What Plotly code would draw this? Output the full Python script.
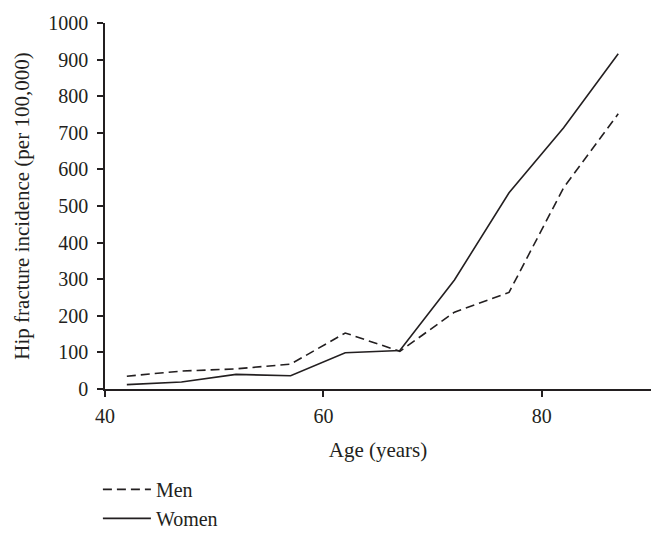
import plotly.graph_objects as go

ages = [42, 47, 52, 57, 62, 67, 72, 77, 82, 87]
men = [35, 49, 55, 68, 153, 103, 210, 264, 550, 752]
women = [12, 19, 40, 36, 99, 105, 298, 536, 714, 916]

ink = '#231f20'
font_family = 'Liberation Serif, Times New Roman, serif'

fig = go.Figure()

fig.add_trace(go.Scatter(
    x=ages, y=men, mode='lines', name='Men',
    line=dict(color=ink, width=1.6, dash='9px,5px')
))
fig.add_trace(go.Scatter(
    x=ages, y=women, mode='lines', name='Women',
    line=dict(color=ink, width=1.6)
))

axis_common = dict(
    showline=True, linecolor=ink, linewidth=1.5,
    ticks='outside', ticklen=6, tickwidth=1.5, tickcolor=ink,
    showgrid=False, zeroline=False,
    tickfont=dict(size=20, color=ink, family=font_family),
)

fig.update_xaxes(
    range=[40, 90], tickvals=[40, 60, 80], ticklabelstandoff=2,
    title=dict(text='Age (years)', font=dict(size=21, color=ink, family=font_family), standoff=17),
    **axis_common
)
fig.update_yaxes(
    range=[0, 1000], dtick=100, ticklabelstandoff=5,
    title=dict(text='Hip fracture incidence (per 100,000)', font=dict(size=21, color=ink, family=font_family), standoff=13),
    **axis_common
)

fig.update_layout(
    width=664, height=537,
    margin=dict(l=105, r=13, t=23, b=148, autoexpand=False),
    paper_bgcolor='white', plot_bgcolor='white',
    font=dict(family=font_family, color=ink, size=21),
    legend=dict(
        x=-0.013, y=-0.221, xanchor='left', yanchor='top',
        font=dict(size=20, color=ink, family=font_family),
        bgcolor='rgba(0,0,0,0)', tracegroupgap=0, itemwidth=48
    ),
)

# drop the default body margin so the figure sits at the page corner
fig.write_html('out.html', config={'displayModeBar': False},
               post_script="document.body.style.margin='0';")
